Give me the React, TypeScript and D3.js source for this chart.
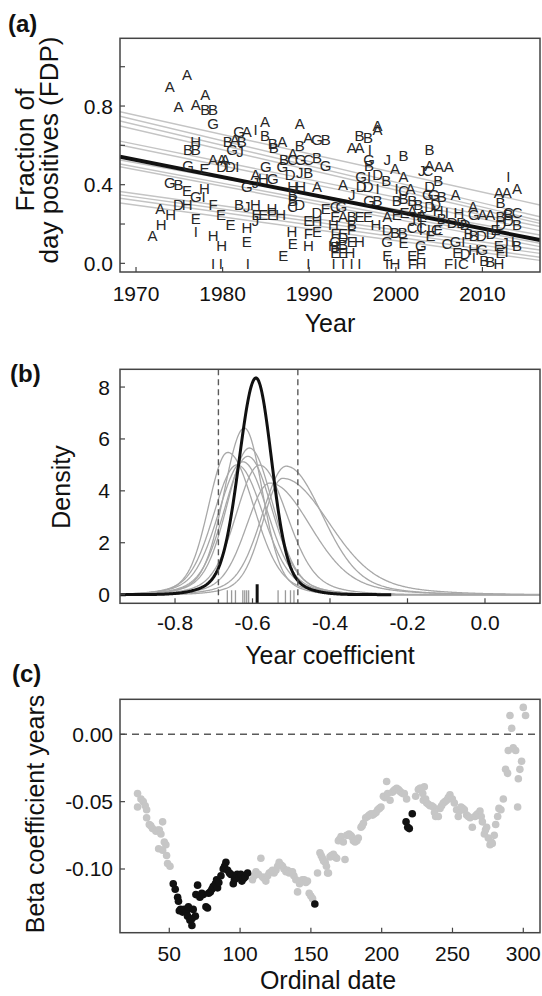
import { useMemo } from "react";
import * as d3 from "d3";

const FONT = '"Liberation Sans", Arial, Helvetica, sans-serif';

/* ------------------------------------------------------------------ */
/*  Panel (a): site letters per year, [site, year, FDP]               */
/* ------------------------------------------------------------------ */

type Letter = [string, number, number];

const letters1970s: Letter[] = [
  ["A", 1971.9, 0.14], ["A", 1972.8, 0.28], ["H", 1972.9, 0.2], ["A", 1973.9, 0.9],
  ["H", 1974.0, 0.25], ["G", 1973.9, 0.41], ["A", 1974.9, 0.8], ["B", 1974.9, 0.4],
  ["D", 1974.9, 0.3], ["A", 1975.9, 0.96], ["B", 1976.0, 0.58], ["G", 1976.0, 0.5],
  ["E", 1975.9, 0.37], ["H", 1975.9, 0.3], ["A", 1976.9, 0.81], ["H", 1976.9, 0.62],
  ["B", 1976.9, 0.58], ["G", 1976.9, 0.34], ["E", 1976.9, 0.23], ["I", 1976.9, 0.16],
  ["A", 1978.0, 0.86], ["B", 1978.0, 0.78], ["E", 1977.9, 0.48], ["H", 1977.9, 0.38],
  ["I", 1977.8, 0.34], ["B", 1978.9, 0.78], ["G", 1978.9, 0.71], ["A", 1978.9, 0.53],
  ["F", 1978.9, 0.3], ["H", 1978.9, 0.14], ["I", 1978.9, 0.0], ["A", 1979.9, 0.53],
  ["D", 1979.9, 0.49], ["E", 1979.8, 0.25], ["H", 1979.9, 0.09], ["I", 1979.8, 0.0],
];

const letters1980s: Letter[] = [
  ["E", 1980.9, 0.2], ["B", 1980.6, 0.62], ["A", 1981.4, 0.63], ["B", 1982.2, 0.62],
  ["G", 1981.9, 0.67], ["A", 1982.8, 0.67], ["I", 1983.8, 0.68], ["A", 1984.9, 0.72],
  ["B", 1984.9, 0.65], ["B", 1985.8, 0.61], ["A", 1986.9, 0.62], ["B", 1985.9, 0.59],
  ["A", 1988.9, 0.71], ["B", 1988.9, 0.6], ["A", 1989.9, 0.64], ["G", 1990.9, 0.63],
  ["B", 1991.9, 0.63], ["G", 1981.1, 0.58], ["J", 1982.0, 0.57], ["A", 1980.3, 0.53],
  ["D", 1980.9, 0.49], ["I", 1981.7, 0.49], ["G", 1985.0, 0.49], ["B", 1987.1, 0.53],
  ["C", 1988.1, 0.53], ["G", 1989.0, 0.53], ["C", 1989.9, 0.53], ["B", 1990.9, 0.54],
  ["A", 1988.1, 0.56], ["G", 1986.9, 0.49], ["D", 1987.8, 0.45], ["J", 1988.9, 0.46],
  ["B", 1989.9, 0.46], ["G", 1991.9, 0.5], ["A", 1983.8, 0.45], ["H", 1984.7, 0.43],
  ["G", 1985.8, 0.43], ["G", 1982.8, 0.39], ["J", 1983.8, 0.41], ["H", 1988.1, 0.39],
  ["H", 1989.0, 0.39], ["A", 1990.9, 0.39], ["B", 1988.1, 0.35], ["B", 1988.1, 0.32],
  ["C", 1988.1, 0.29], ["D", 1988.9, 0.3], ["B", 1981.9, 0.3], ["J", 1982.8, 0.29],
  ["H", 1983.8, 0.3], ["H", 1985.7, 0.28], ["E", 1983.9, 0.25], ["E", 1984.7, 0.25],
  ["E", 1985.7, 0.25], ["H", 1986.7, 0.25], ["J", 1983.8, 0.22], ["H", 1982.8, 0.18],
  ["E", 1982.8, 0.11], ["E", 1989.9, 0.22], ["H", 1990.9, 0.22], ["D", 1990.9, 0.26],
  ["E", 1991.9, 0.28], ["F", 1989.9, 0.15], ["E", 1990.9, 0.16], ["H", 1988.0, 0.16],
  ["E", 1988.1, 0.1], ["E", 1987.0, 0.04], ["H", 1989.9, 0.09], ["I", 1982.9, 0.0],
  ["I", 1989.9, 0.0],
];

const letters1990s: Letter[] = [
  ["A", 1997.9, 0.7], ["A", 1997.9, 0.68], ["B", 1995.8, 0.65], ["B", 1996.8, 0.64],
  ["A", 1994.9, 0.59], ["A", 1995.8, 0.59], ["I", 1997.0, 0.58], ["G", 1996.9, 0.53],
  ["B", 1996.9, 0.5], ["J", 1999.0, 0.53], ["A", 1999.9, 0.48], ["G", 1996.0, 0.44],
  ["I", 1996.9, 0.44], ["D", 1997.9, 0.45], ["B", 1998.9, 0.42], ["A", 1993.9, 0.4],
  ["D", 1996.0, 0.39], ["D", 1996.8, 0.39], ["I", 1997.9, 0.38], ["J", 1994.9, 0.35],
  ["G", 1996.9, 0.32], ["B", 1997.9, 0.32], ["C", 1993.0, 0.29], ["G", 1993.7, 0.29],
  ["E", 1993.0, 0.24], ["A", 1993.9, 0.24], ["H", 1992.8, 0.2], ["F", 1993.0, 0.15],
  ["E", 1993.9, 0.15], ["H", 1992.8, 0.09], ["B", 1994.9, 0.24], ["E", 1995.8, 0.24],
  ["E", 1996.8, 0.24], ["H", 1997.7, 0.2], ["B", 1994.9, 0.2], ["F", 1994.9, 0.17],
  ["D", 1993.9, 0.13], ["G", 1993.0, 0.11], ["B", 1993.0, 0.085], ["B", 1993.9, 0.095],
  ["E", 1993.0, 0.054], ["E", 1993.9, 0.054], ["H", 1994.7, 0.054], ["E", 1994.9, 0.11],
  ["H", 1995.8, 0.11], ["I", 1992.8, 0.0], ["I", 1993.9, 0.0], ["I", 1994.9, 0.0],
  ["I", 1995.8, 0.0], ["A", 1999.0, 0.24], ["G", 1999.0, 0.11], ["D", 1999.0, 0.17],
  ["B", 1999.9, 0.155], ["E", 1999.0, 0.04], ["I", 1999.0, 0.0], ["H", 1999.9, 0.0],
];

const letters2000s: Letter[] = [
  ["B", 2000.9, 0.55], ["A", 2000.9, 0.44], ["B", 2000.8, 0.155], ["E", 2000.9, 0.105],
  ["I", 2000.1, 0.38], ["C", 2000.9, 0.37], ["A", 2001.7, 0.38], ["B", 2000.9, 0.33],
  ["B", 2001.9, 0.32], ["J", 2003.0, 0.47], ["C", 2003.7, 0.47], ["B", 2003.9, 0.58],
  ["A", 2003.9, 0.5], ["D", 2003.9, 0.39], ["G", 2003.7, 0.35], ["C", 2001.9, 0.18],
  ["I", 2002.9, 0.17], ["E", 2001.9, 0.04], ["F", 2001.9, 0.0], ["H", 2002.9, 0.0],
  ["E", 2002.9, 0.05], ["G", 2002.9, 0.09], ["J", 2001.9, 0.22], ["I", 2002.9, 0.21],
  ["B", 2000.1, 0.32], ["B", 2002.6, 0.3], ["A", 2003.0, 0.25], ["D", 2003.9, 0.29],
  ["C", 2003.0, 0.18], ["I", 2003.8, 0.17], ["C", 2004.7, 0.17], ["E", 2000.1, 0.25],
  ["E", 2001.0, 0.26], ["A", 2001.9, 0.27], ["E", 2003.0, 0.24], ["A", 2005.0, 0.49],
  ["A", 2006.1, 0.49], ["B", 2004.9, 0.42], ["G", 2004.4, 0.35], ["B", 2005.3, 0.34],
  ["A", 2006.9, 0.35], ["D", 2004.6, 0.3], ["H", 2004.9, 0.27], ["I", 2005.9, 0.26],
  ["H", 2007.3, 0.26], ["A", 2008.9, 0.29], ["G", 2009.0, 0.25], ["E", 2004.9, 0.17],
  ["B", 2005.3, 0.23], ["D", 2006.5, 0.21], ["D", 2007.6, 0.21], ["D", 2008.0, 0.2],
  ["G", 2006.9, 0.11], ["I", 2007.8, 0.11], ["C", 2005.9, 0.1], ["E", 2004.0, 0.14],
  ["E", 2007.1, 0.054], ["D", 2008.0, 0.051], ["F", 2006.1, 0.0], ["I", 2006.9, 0.0],
  ["C", 2007.8, 0.0], ["B", 2008.4, 0.153], ["B", 2009.0, 0.144], ["I", 2009.0, 0.03],
];

const letters2010s: Letter[] = [
  ["A", 2010.0, 0.25], ["A", 2010.9, 0.25], ["I", 2013.0, 0.44], ["A", 2011.9, 0.36],
  ["A", 2012.8, 0.36], ["A", 2014.0, 0.38], ["B", 2012.1, 0.31], ["C", 2013.0, 0.26],
  ["C", 2014.0, 0.26], ["B", 2012.1, 0.24], ["D", 2013.0, 0.22], ["B", 2013.0, 0.25],
  ["D", 2012.1, 0.2], ["B", 2014.0, 0.2], ["B", 2014.0, 0.093], ["E", 2011.9, 0.093],
  ["J", 2012.6, 0.105], ["I", 2013.5, 0.11], ["E", 2012.1, 0.054], ["I", 2012.8, 0.06],
  ["D", 2009.9, 0.144], ["H", 2009.0, 0.068], ["G", 2010.0, 0.068], ["B", 2010.2, 0.017],
  ["B", 2010.9, 0.008], ["H", 2011.9, 0.0], ["D", 2011.0, 0.15], ["E", 2011.5, 0.17],
];

const yearTicks = [1970, 1980, 1990, 2000, 2010];
const fdpTicks = [0, 0.2, 0.4, 0.6, 0.8, 1.0];
const fdpLabels = [0, 0.4, 0.8];

// fitted FDP at 1970 and at 2015 for each site, and for the pooled model
const siteFitAt1970 = [0.753, 0.729, 0.705, 0.68, 0.605, 0.585, 0.511, 0.49, 0.476, 0.354, 0.337, 0.32, 0.296];
const siteFitAt2015 = [0.313, 0.254, 0.234, 0.22, 0.202, 0.181, 0.157, 0.116, 0.099, 0.078, 0.061, 0.041, 0.025];
const pooledFit = [0.526, 0.133];

/* ------------------------------------------------------------------ */
/*  Panel (b): posterior densities of the year coefficient            */
/* ------------------------------------------------------------------ */

const siteModes = [-0.621, -0.664, -0.608, -0.612, -0.625, -0.64, -0.582, -0.513, -0.522, -0.555];
const sitePeaks = [6.42, 5.48, 5.65, 5.33, 5.12, 5.0, 4.99, 4.95, 4.48, 4.3];
const siteSdLeft = [0.05, 0.048, 0.055, 0.058, 0.06, 0.058, 0.058, 0.06, 0.05, 0.058];
const siteSdRight = [0.045, 0.065, 0.058, 0.06, 0.062, 0.065, 0.068, 0.09, 0.115, 0.1];
const pooledDensity = { mode: -0.591, peak: 8.35, sdLeft: 0.042, sdRight: 0.039 };
const credibleBounds = [-0.688, -0.483];
const siteRug = [-0.665, -0.654, -0.644, -0.625, -0.62, -0.615, -0.61, -0.534, -0.515, -0.502, -0.493];
const pooledRug = -0.588;
const densityTicks = [0, 2, 4, 6, 8];
const coefTicks = [-0.8, -0.6, -0.4, -0.2, 0.0];

/* ------------------------------------------------------------------ */
/*  Panel (c): beta coefficient per ordinal date, [date, beta]        */
/* ------------------------------------------------------------------ */

type Pt = [number, number];

const earlyGray: Pt[] = [
  [27.6, -0.044], [30, -0.048], [27.6, -0.054], [31.6, -0.05], [33, -0.053], [34, -0.056],
  [34, -0.062], [35.9, -0.067], [37, -0.068], [38.2, -0.07], [40.6, -0.072], [42, -0.071],
  [43, -0.071], [45.3, -0.065], [44.1, -0.074], [46.5, -0.08], [47.6, -0.082], [42.5, -0.085],
  [45.3, -0.086], [48.1, -0.09], [48.8, -0.096], [50.5, -0.098],
];

const springBlack: Pt[] = [
  [52.8, -0.111], [54.2, -0.115], [55.9, -0.121], [56.5, -0.124], [57.1, -0.131], [58, -0.13],
  [59.4, -0.132], [60.6, -0.13], [62.2, -0.132], [62.9, -0.135], [64.6, -0.138], [66, -0.142],
  [66.9, -0.13], [68.4, -0.135], [66, -0.137], [63.5, -0.128], [70, -0.112], [68.8, -0.119],
  [71.6, -0.121], [73, -0.118], [74, -0.119], [75.9, -0.128], [77, -0.129], [77.8, -0.118],
  [79, -0.117], [80.1, -0.115], [81, -0.113], [82.5, -0.111], [84.1, -0.114], [83.4, -0.108],
  [85, -0.11], [86.5, -0.105], [88.1, -0.1], [89, -0.098], [90, -0.095], [91.2, -0.101],
  [92.5, -0.103], [93.5, -0.104], [95.2, -0.111], [96, -0.108], [97, -0.107], [98, -0.104],
  [99.4, -0.106], [100.5, -0.104], [101.3, -0.109], [102.5, -0.107], [103.6, -0.106], [105.3, -0.103],
  [152.8, -0.126],
];

const midGray: Pt[] = [
  [108.8, -0.108], [110, -0.105], [111.2, -0.102], [113, -0.104], [114.7, -0.092], [115.9, -0.106],
  [117, -0.107], [118.2, -0.109], [119.5, -0.105], [120.6, -0.103], [122, -0.102], [122.9, -0.101],
  [124, -0.103], [125.3, -0.101], [126.5, -0.098], [127.6, -0.095], [129, -0.097], [130, -0.098],
  [131, -0.1], [132.4, -0.102], [133.5, -0.101], [134.7, -0.103], [136, -0.102], [137, -0.102],
  [138, -0.105], [139.4, -0.108], [140.6, -0.117], [142, -0.111], [143, -0.109], [144, -0.108],
  [145.3, -0.108], [146.5, -0.11], [147.6, -0.109], [148.8, -0.118], [150, -0.12], [151.2, -0.122],
  [154.7, -0.103], [156.4, -0.088], [157.3, -0.09], [158.2, -0.092], [159, -0.094], [160.1, -0.095],
  [161, -0.098], [161.8, -0.103], [162.4, -0.103], [163.5, -0.091], [164.5, -0.09], [165.9, -0.089],
  [167, -0.091], [168.2, -0.092], [169.4, -0.079], [170.3, -0.078], [171.3, -0.076], [172.9, -0.08],
  [174.1, -0.093], [175.3, -0.075], [176.9, -0.074], [178, -0.075], [178.8, -0.076], [180, -0.079],
  [181.2, -0.08], [182.5, -0.079], [183.5, -0.077], [185.4, -0.069], [186.2, -0.068], [187.1, -0.066],
  [188.7, -0.062], [190.1, -0.061], [191.2, -0.06], [192.5, -0.059], [193.6, -0.06], [194.8, -0.059],
  [196, -0.058], [197.2, -0.056], [198.4, -0.055], [199.5, -0.054], [201.2, -0.046], [202.2, -0.047],
  [203.5, -0.035], [204.2, -0.044], [205.9, -0.049], [207.5, -0.043], [208.4, -0.042], [209.4, -0.041],
  [210.6, -0.04], [211.8, -0.041], [212.6, -0.042], [213.6, -0.043], [214.8, -0.044], [216, -0.044],
  [217.6, -0.048],
];

const summerBlack: Pt[] = [[217.2, -0.065], [218.4, -0.069], [219.5, -0.07], [221.6, -0.059]];

const lateGray: Pt[] = [
  [224, -0.046], [225.9, -0.041], [227, -0.04], [227.8, -0.04], [229, -0.044], [229.4, -0.049],
  [230.1, -0.039], [231, -0.048], [231.8, -0.051], [233, -0.052], [234.1, -0.053], [235.3, -0.053],
  [236.5, -0.054], [237.3, -0.058], [238.1, -0.061], [240, -0.061], [241.2, -0.055], [242.3, -0.053],
  [243.5, -0.051], [244.7, -0.05], [245.9, -0.049], [247, -0.047], [248.2, -0.045], [249.9, -0.048],
  [251.3, -0.051], [252.9, -0.056], [254.1, -0.061], [255, -0.057], [256, -0.054], [257.2, -0.055],
  [258.4, -0.056], [260, -0.06], [261.2, -0.061], [262.4, -0.062], [264, -0.069], [265.9, -0.061],
  [266.8, -0.06], [267.8, -0.059], [269.4, -0.057], [270.3, -0.061], [271.1, -0.065], [272.5, -0.074],
  [273.3, -0.071], [274.1, -0.069], [275.3, -0.077], [276.5, -0.082], [277.3, -0.08], [278.1, -0.081],
  [279.5, -0.075], [280.5, -0.067], [281.9, -0.061], [282.8, -0.055], [284.2, -0.056], [285.9, -0.048],
  [287.5, -0.026], [288.9, -0.029], [289.4, -0.012], [290.6, 0.014], [291.8, 0.0045], [292.9, -0.01],
  [294.6, -0.012], [296, -0.054], [296.5, -0.033], [297.6, -0.026], [298.8, -0.02], [300, 0.02],
  [301.6, 0.014],
];

const dateTicks = [50, 100, 150, 200, 250, 300];
const betaTicks = [0, -0.05, -0.1];

/* ------------------------------------------------------------------ */

const LEFT = 120;
const RIGHT = 540;
const TICK_LEN = 5;
const FRAME = "#444";

function skewedBump(x: number, mode: number, peak: number, sdL: number, sdR: number) {
  const z = (x - mode) / (x < mode ? sdL : sdR);
  return peak * (0.88 * Math.exp((-z * z) / 2) + 0.12 * Math.exp((-z * z) / 8));
}

function Frame({ top, bottom }: { top: number; bottom: number }) {
  return (
    <rect x={LEFT} y={top} width={RIGHT - LEFT} height={bottom - top} fill="none" stroke={FRAME} strokeWidth={1.5} />
  );
}

export default function App() {
  // panel (a)
  const aTop = 38.3, aBottom = 272;
  const xA = d3.scaleLinear().domain([1968.15, 2016.65]).range([LEFT, RIGHT]);
  const yA = d3.scaleLinear().domain([-0.044, 1.1445]).range([aBottom, aTop]);
  const fitLine = (v1970: number, v2015: number) => {
    const slope = (v2015 - v1970) / 45;
    const [x0, x1] = xA.domain();
    return { x1: xA(x0), y1: yA(v1970 + slope * (x0 - 1970)), x2: xA(x1), y2: yA(v1970 + slope * (x1 - 1970)) };
  };
  const allLetters = [...letters1970s, ...letters1980s, ...letters1990s, ...letters2000s, ...letters2010s];

  // panel (b)
  const bTop = 369.3, bBottom = 603.3;
  const xB = d3.scaleLinear().domain([-0.942, 0.142]).range([LEFT, RIGHT]);
  const yB = d3.scaleLinear().domain([-0.334, 8.684]).range([bBottom, bTop]);
  const grid = useMemo(() => d3.range(-0.942, 0.1425, 0.002), []);
  const pooledGrid = grid.filter((v) => v <= -0.24);
  const densityLine = (mode: number, peak: number, sdL: number, sdR: number) =>
    d3
      .line<number>()
      .x((v) => xB(v))
      .y((v) => yB(skewedBump(v, mode, peak, sdL, sdR)));

  // panel (c)
  const cTop = 699.3, cBottom = 932.7;
  const xC = d3.scaleLinear().domain([15.2, 311.8]).range([LEFT, RIGHT]);
  const yC = d3.scaleLinear().domain([-0.1473, 0.026]).range([cBottom, cTop]);
  const grayPts = [...earlyGray, ...midGray, ...lateGray];
  const blackPts = [...springBlack, ...summerBlack];

  const tickFont = 21;
  const titleFont = 25;

  return (
    <svg
      width={542}
      height={996}
      style={{ position: "absolute", left: 0, top: 0, display: "block", background: "#fff" }}
      fontFamily={FONT}
    >
      <defs>
        <clipPath id="clipA"><rect x={LEFT} y={aTop} width={RIGHT - LEFT} height={aBottom - aTop} /></clipPath>
        <clipPath id="clipB"><rect x={LEFT} y={bTop} width={RIGHT - LEFT} height={bBottom - bTop} /></clipPath>
        <clipPath id="clipC"><rect x={LEFT} y={cTop} width={RIGHT - LEFT} height={cBottom - cTop} /></clipPath>
      </defs>

      {/* ---------------- (a) ---------------- */}
      <text x={8} y={32} fontSize={24} fontWeight="bold" fill="#111">(a)</text>
      <g clipPath="url(#clipA)">
        {siteFitAt1970.map((v, i) => {
          const l = fitLine(v, siteFitAt2015[i]);
          return <line key={i} {...l} stroke="#c4c4c4" strokeWidth={1.4} />;
        })}
        <line {...fitLine(pooledFit[0], pooledFit[1])} stroke="#111" strokeWidth={4} />
        {allLetters.map(([s, yr, v], i) => (
          <text
            key={i}
            x={xA(yr)}
            y={yA(v)}
            fontSize={15}
            textAnchor="middle"
            dominantBaseline="central"
            fill="#262626"
            style={{ WebkitFontSmoothing: "antialiased" }}
          >
            {s}
          </text>
        ))}
      </g>
      <Frame top={aTop} bottom={aBottom} />
      {fdpTicks.map((t) => (
        <line key={t} x1={LEFT} x2={LEFT + TICK_LEN} y1={yA(t)} y2={yA(t)} stroke={FRAME} strokeWidth={1.2} />
      ))}
      {fdpLabels.map((t) => (
        <text key={t} x={113} y={yA(t)} fontSize={tickFont} textAnchor="end" dominantBaseline="central" fill="#111">
          {t.toFixed(1)}
        </text>
      ))}
      {yearTicks.map((t) => (
        <g key={t}>
          <line x1={xA(t)} x2={xA(t)} y1={aBottom} y2={aBottom - TICK_LEN} stroke={FRAME} strokeWidth={1.2} />
          <text x={xA(t)} y={293} fontSize={tickFont} textAnchor="middle" dominantBaseline="central" fill="#111">
            {t}
          </text>
        </g>
      ))}
      <text x={330} y={323} fontSize={titleFont} textAnchor="middle" dominantBaseline="central" fill="#111">Year</text>
      <text transform="translate(25,150) rotate(-90)" fontSize={26} textAnchor="middle" dominantBaseline="central" fill="#111">
        Fraction of
      </text>
      <text transform="translate(49,150) rotate(-90)" fontSize={26} textAnchor="middle" dominantBaseline="central" fill="#111">
        day positives (FDP)
      </text>

      {/* ---------------- (b) ---------------- */}
      <text x={10} y={382} fontSize={24} fontWeight="bold" fill="#111">(b)</text>
      <g clipPath="url(#clipB)">
        {siteModes.map((m, i) => (
          <path
            key={i}
            d={densityLine(m, sitePeaks[i], siteSdLeft[i], siteSdRight[i])(grid) ?? ""}
            fill="none"
            stroke="#a8a8a8"
            strokeWidth={1.3}
          />
        ))}
        <path
          d={
            densityLine(pooledDensity.mode, pooledDensity.peak, pooledDensity.sdLeft, pooledDensity.sdRight)(pooledGrid) ?? ""
          }
          fill="none"
          stroke="#111"
          strokeWidth={3}
        />
        {credibleBounds.map((v) => (
          <line key={v} x1={xB(v)} x2={xB(v)} y1={bTop} y2={bBottom} stroke="#5a5a5a" strokeWidth={1.4} strokeDasharray="6,4" />
        ))}
        {siteRug.map((v, i) => (
          <line key={i} x1={xB(v)} x2={xB(v)} y1={bBottom - 13} y2={bBottom} stroke="#9a9a9a" strokeWidth={1.3} />
        ))}
        <line x1={xB(pooledRug)} x2={xB(pooledRug)} y1={bBottom - 19} y2={bBottom} stroke="#111" strokeWidth={3} />
      </g>
      <Frame top={bTop} bottom={bBottom} />
      {densityTicks.map((t) => (
        <g key={t}>
          <line x1={LEFT} x2={LEFT + TICK_LEN} y1={yB(t)} y2={yB(t)} stroke={FRAME} strokeWidth={1.2} />
          <text x={110} y={yB(t)} fontSize={tickFont} textAnchor="end" dominantBaseline="central" fill="#111">
            {t}
          </text>
        </g>
      ))}
      {coefTicks.map((t) => (
        <g key={t}>
          <line x1={xB(t)} x2={xB(t)} y1={bBottom} y2={bBottom - TICK_LEN} stroke={FRAME} strokeWidth={1.2} />
          <text x={xB(t)} y={622} fontSize={tickFont} textAnchor="middle" dominantBaseline="central" fill="#111">
            {t.toFixed(1)}
          </text>
        </g>
      ))}
      <text x={330} y={655} fontSize={titleFont} textAnchor="middle" dominantBaseline="central" fill="#111">
        Year coefficient
      </text>
      <text transform="translate(61,487) rotate(-90)" fontSize={titleFont} textAnchor="middle" dominantBaseline="central" fill="#111">
        Density
      </text>

      {/* ---------------- (c) ---------------- */}
      <text x={12} y={682} fontSize={24} fontWeight="bold" fill="#111">(c)</text>
      <g clipPath="url(#clipC)">
        <line x1={LEFT} x2={RIGHT} y1={yC(0)} y2={yC(0)} stroke="#5a5a5a" strokeWidth={1.4} strokeDasharray="7,5" />
        {grayPts.map(([d, b], i) => (
          <circle key={i} cx={xC(d)} cy={yC(b)} r={3.8} fill="#c6c6c6" />
        ))}
        {blackPts.map(([d, b], i) => (
          <circle key={i} cx={xC(d)} cy={yC(b)} r={3.8} fill="#111" />
        ))}
      </g>
      <Frame top={cTop} bottom={cBottom} />
      {betaTicks.map((t) => (
        <g key={t}>
          <line x1={LEFT} x2={LEFT + TICK_LEN} y1={yC(t)} y2={yC(t)} stroke={FRAME} strokeWidth={1.2} />
          <text x={113} y={yC(t)} fontSize={tickFont} textAnchor="end" dominantBaseline="central" fill="#111">
            {t.toFixed(2)}
          </text>
        </g>
      ))}
      {dateTicks.map((t) => (
        <g key={t}>
          <line x1={xC(t)} x2={xC(t)} y1={cBottom} y2={cBottom - TICK_LEN} stroke={FRAME} strokeWidth={1.2} />
          <text x={xC(t)} y={953} fontSize={tickFont} textAnchor="middle" dominantBaseline="central" fill="#111">
            {t}
          </text>
        </g>
      ))}
      <text x={328} y={980} fontSize={titleFont} textAnchor="middle" dominantBaseline="central" fill="#111">
        Ordinal date
      </text>
      <text transform="translate(35,814) rotate(-90)" fontSize={titleFont} textAnchor="middle" dominantBaseline="central" fill="#111">
        Beta coefficient years
      </text>
    </svg>
  );
}
